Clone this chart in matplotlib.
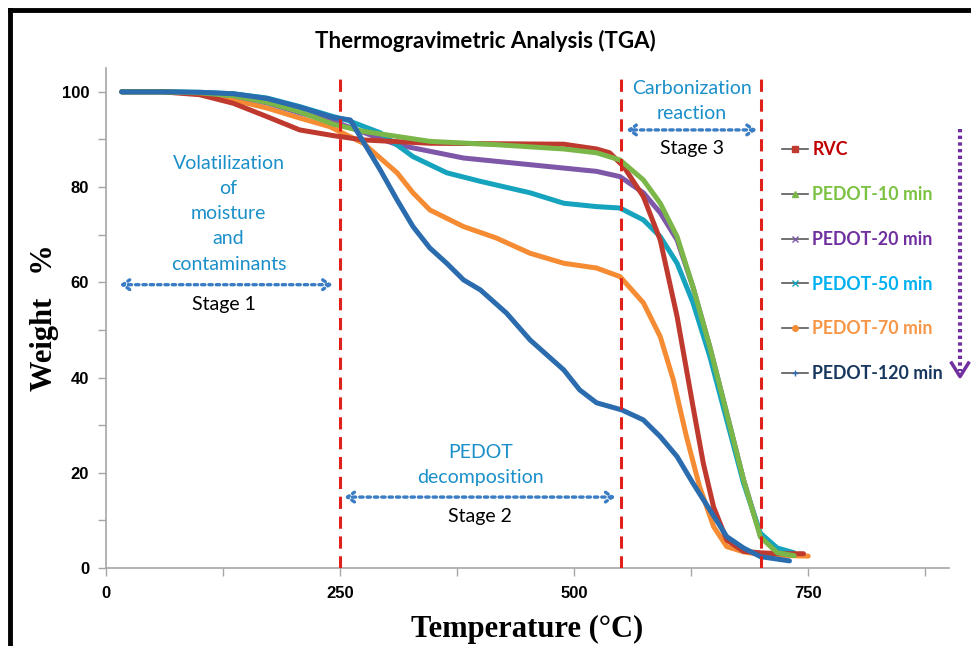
import matplotlib
matplotlib.use("Agg")
import matplotlib.pyplot as plt
from matplotlib.lines import Line2D

# Datos (Temperatura en C, Peso en %)
t_rvc = [17, 60, 100, 136, 172, 207, 243, 275, 346, 417, 489, 524, 538, 553, 574, 592, 610, 627, 638, 649, 663, 681, 699, 720, 745]
w_rvc = [100, 100, 99.4, 97.6, 94.8, 92, 90.8, 89.9, 89.2, 89.1, 89, 88, 87.2, 84.3, 78, 68.9, 52.8, 33.9, 22, 12.8, 5.9, 3.5, 3.2, 3.0, 3.0]

t_p10 = [17, 60, 100, 136, 172, 207, 243, 275, 346, 417, 489, 524, 549, 574, 592, 610, 627, 645, 663, 681, 699, 717, 735]
w_p10 = [100, 100, 99.8, 99.2, 97.8, 95.8, 93.2, 91.7, 89.6, 88.9, 88, 87.2, 85.7, 81.5, 76.6, 69.6, 59, 46.4, 32.5, 18.5, 6.5, 3.2, 2.6]

t_p20 = [17, 60, 100, 136, 172, 207, 243, 311, 382, 453, 524, 549, 574, 592, 610, 627, 645, 663, 681, 699, 717, 735]
w_p20 = [100, 100, 99.8, 99.2, 97.7, 95.6, 93.8, 88.9, 86.1, 84.7, 83.3, 82.2, 78.8, 74.6, 68.9, 59, 46.4, 32.5, 18.5, 6.8, 3.5, 2.8]

t_p50 = [17, 60, 100, 136, 172, 207, 243, 257, 293, 328, 364, 400, 453, 489, 524, 549, 574, 592, 610, 627, 645, 663, 681, 699, 717, 735]
w_p50 = [100, 100, 99.9, 99.6, 98.7, 96.9, 94.8, 94.1, 91.4, 86.4, 83, 81.2, 78.8, 76.6, 75.9, 75.6, 73.1, 69.6, 64, 55.7, 44.4, 31.1, 17.8, 7.3, 4.2, 3.2]

t_p70 = [66, 100, 136, 172, 207, 239, 275, 311, 328, 346, 382, 417, 453, 489, 524, 549, 574, 592, 606, 620, 634, 649, 663, 681, 700, 750]
w_p70 = [100, 99.6, 98.3, 96.6, 94.5, 92.7, 89.2, 83, 78.8, 75.2, 71.7, 69.3, 66.1, 64, 63, 61.2, 55.7, 48.6, 39.5, 27.6, 17.1, 8.7, 4.5, 3.4, 2.8, 2.5]

t_p120 = [17, 60, 100, 136, 172, 207, 243, 261, 278, 293, 311, 328, 346, 364, 382, 400, 428, 453, 489, 506, 524, 551, 574, 592, 610, 627, 645, 663, 681, 699, 730]
w_p120 = [100, 100, 99.9, 99.6, 98.6, 96.8, 94.6, 94.1, 88.5, 83.6, 77.3, 71.7, 67.2, 64, 60.5, 58.4, 53.5, 47.9, 41.6, 37.4, 34.7, 33.2, 31.1, 27.6, 23.4, 17.8, 12.2, 6.6, 4.2, 2.4, 1.5]

series = ["RVC", "PEDOT-10 min", "PEDOT-20 min", "PEDOT-50 min", "PEDOT-70 min", "PEDOT-120 min"]
temps = [t_rvc, t_p10, t_p20, t_p50, t_p70, t_p120]
pesos = [w_rvc, w_p10, w_p20, w_p50, w_p70, w_p120]
colores = ["#c0392f", "#7ab648", "#7e57a8", "#16a3bd", "#f58b32", "#2a6cad"]
colores_texto = ["#c00000", "#7cc242", "#7030a0", "#00b0f0", "#f79646", "#17375e"]
marcadores = ["s", "^", "x", "x", "o", "+"]

# Limites de las etapas
etapas = [250, 550, 700]

fig = plt.figure(figsize=(9.71, 6.46), dpi=100)
ax = fig.add_axes([0.109, 0.1207, 0.868, 0.774])

orden = [4, 2, 3, 0, 1, 5]
for i in orden:
    ax.plot(temps[i], pesos[i], color=colores[i], lw=3.6, solid_capstyle="round",
            solid_joinstyle="round", zorder=3)

ax.vlines(etapas, 0, 103.5, colors="#e0201b", linestyles=(0, (4, 2.5)), lw=2.2, zorder=4)

ax.set_xlim(0, 900)
ax.set_ylim(0, 105)
ax.set_xticks([0, 125, 250, 375, 500, 625, 750, 875])
ax.set_xticklabels(["0", "", "250", "", "500", "", "750", ""])
ax.set_yticks([0, 10, 20, 30, 40, 50, 60, 70, 80, 90, 100])
ax.set_yticklabels(["0", "", "20", "", "40", "", "60", "", "80", "", "100"])
for s in ["top", "right"]:
    ax.spines[s].set_visible(False)
for s in ["left", "bottom"]:
    ax.spines[s].set_color("#a6a6a6")
    ax.spines[s].set_linewidth(1.2)
ax.tick_params(direction="out", length=6, color="#a6a6a6", width=1.0)
ax.tick_params(axis="x", pad=7)
ax.tick_params(axis="y", pad=6)
for lab in ax.get_xticklabels() + ax.get_yticklabels():
    lab.set_fontfamily("Liberation Sans")
    lab.set_fontweight("bold")
    lab.set_fontsize(12)

ax.set_xlabel("Temperature (°C)", family="Liberation Serif", weight="bold", fontsize=22, labelpad=10)
ax.set_ylabel("Weight   %", family="Liberation Serif", weight="bold", fontsize=22, labelpad=2)
fig.text(0.5, 0.936, "Thermogravimetric Analysis (TGA)", family="Lato", weight="bold",
         fontsize=16, ha="center", va="center")

# Anotaciones de etapas
azul = "#1a8fc9"
flecha = dict(arrowstyle="<->,head_length=0.5,head_width=0.35", color="#3a7dc4", lw=2.4, linestyle=(0, (1, 1.2)))
ax.annotate("", xy=(12, 59.5), xytext=(245, 59.5), arrowprops=flecha)
ax.annotate("", xy=(252, 14.9), xytext=(547, 14.9), arrowprops=flecha)
ax.annotate("", xy=(553, 92), xytext=(698, 92), arrowprops=flecha)

ax.text(131, 74.4, "Volatilization\nof\nmoisture\nand\ncontaminants", color=azul, family="Lato",
        fontsize=14, ha="center", va="center", linespacing=1.59)
ax.text(126, 55.3, "Stage 1", color="black", family="Lato", fontsize=14, ha="center", va="center")
ax.text(400, 21.6, "PEDOT\ndecomposition", color=azul, family="Lato", fontsize=14,
        ha="center", va="center", linespacing=1.59)
ax.text(400, 10.8, "Stage 2", color="black", family="Lato", fontsize=14, ha="center", va="center")
ax.text(626, 98.1, "Carbonization\nreaction", color=azul, family="Lato", fontsize=14,
        ha="center", va="center", linespacing=1.59)
ax.text(626, 88.0, "Stage 3", color="black", family="Lato", fontsize=14, ha="center", va="center")

# Leyenda
manejadores = [Line2D([], [], color="#595959", lw=1.2, marker=m, markersize=4,
                      markerfacecolor=c, markeredgecolor=c) for m, c in zip(marcadores, colores)]
leg = fig.legend(manejadores, series, loc="upper left", bbox_to_anchor=(0.7962, 0.795),
                 frameon=False, prop={"family": "Lato", "weight": "bold", "size": 12.8},
                 labelcolor=colores_texto, handlelength=1.45, handletextpad=0.25,
                 labelspacing=1.56, borderpad=0)

# Flecha morada vertical
fig.add_artist(Line2D([0.9887, 0.9887], [0.800, 0.425], color="#7030a0", lw=3,
                      linestyle=(0, (0.8, 0.8)), transform=fig.transFigure))
fig.add_artist(Line2D([0.9800, 0.9887, 0.9974], [0.438, 0.417, 0.438], color="#7030a0", lw=2.5,
                      transform=fig.transFigure))

# Marco negro
fig.add_artist(Line2D([0.0108, 0.0108], [0.0, 0.9845], color="black", lw=3.5, transform=fig.transFigure))
fig.add_artist(Line2D([0.0108, 1.0], [0.9845, 0.9845], color="black", lw=3.5, transform=fig.transFigure))

fig.savefig("out.png", dpi=100)
